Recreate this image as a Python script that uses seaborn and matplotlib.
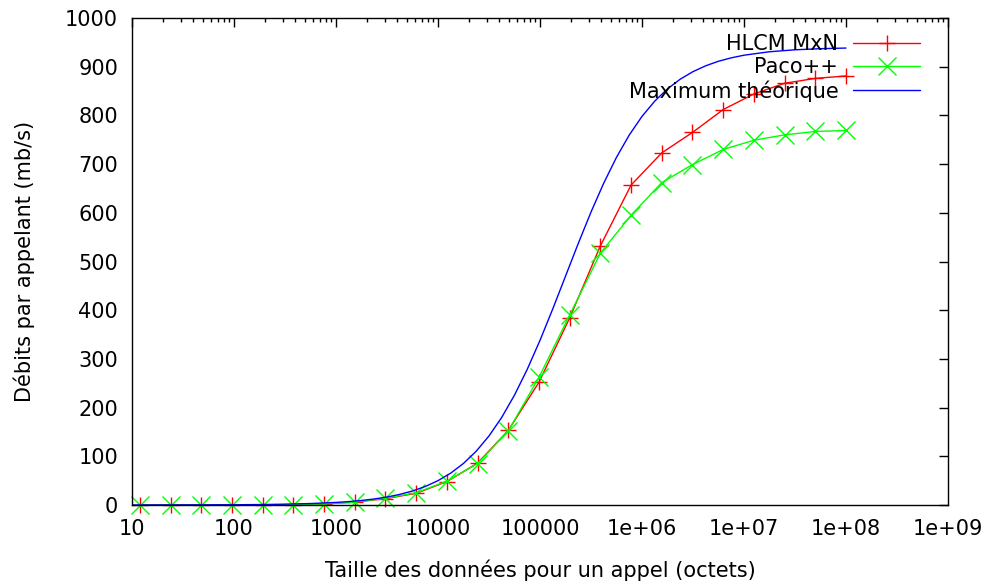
import pandas as pd
import matplotlib
matplotlib.use("Agg")
import matplotlib.pyplot as plt
import matplotlib.ticker as mtick
import seaborn as sns

# Data
sizes = [12, 24, 48, 95, 191, 381, 763, 1526, 3052, 6104, 12207, 24414,
         48828, 97656, 195312, 390625, 781250, 1562500, 3125000, 6250000,
         12500000, 25000000, 50000000, 100000000]
hlcm = [0, 0, 0, 0, 0, 1, 2, 6, 13, 24, 48, 86,
        153, 252, 384, 532, 657, 723, 765, 812, 844, 866, 876, 881]
paco = [0, 0, 0, 0, 0, 1, 2, 6, 14, 25, 49, 85,
        152, 262, 390, 517, 595, 662, 699, 730, 749, 760, 767, 769]

# theoretical maximum curve, sampled along the picture
max_sizes = [10, 17.8, 31.6, 56.2, 100, 178, 316, 562,
             1000, 1334, 1778, 2371, 3162, 4217, 5623, 7499,
             10000, 13335, 17783, 23714, 31623, 42170, 56234, 74989,
             100000, 133352, 177828, 237137, 316228, 421697, 562341, 749894,
             1000000, 1333521, 1778279, 2371374, 3162278, 4216965, 5623413, 7498942,
             10000000, 17782794, 31622777, 56234133, 100000000]
max_vals = [0.05, 0.1, 0.2, 0.3, 0.5, 0.9, 1.7, 3.0,
            5.3, 7.0, 9.3, 12.4, 16.4, 21.8, 28.8, 38.0,
            50.0, 65.5, 85.4, 110.5, 141.8, 180.0, 225.7, 278.6,
            338.1, 402.6, 469.8, 537.0, 601.5, 661.0, 714.0, 759.7,
            798.0, 829.3, 854.5, 874.4, 889.9, 901.9, 911.2, 918.2,
            923.6, 930.7, 934.7, 937.0, 938.3]

xticks = [1e1, 1e2, 1e3, 1e4, 1e5, 1e6, 1e7, 1e8, 1e9]
xtick_labels = ["10", "100", "1000", "10000", "100000",
                "1e+06", "1e+07", "1e+08", "1e+09"]

sns.set_theme(style="white")
plt.rcParams['font.family'] = ['DejaVu Sans']
plt.rcParams['text.color'] = 'black'
plt.rcParams['axes.labelcolor'] = 'black'

RED = "#ff0000"
GREEN = "#00ff00"
BLUE = "#0000ff"
FS = 15

df_h = pd.DataFrame({"size": sizes, "rate": hlcm})
df_p = pd.DataFrame({"size": sizes, "rate": paco})
df_m = pd.DataFrame({"size": max_sizes, "rate": max_vals})

fig = plt.figure(figsize=(9.86, 5.83), dpi=100)
ax = fig.add_axes([132/986, 1 - 505/583, 816/986, 487/583])

sns.lineplot(data=df_h, x="size", y="rate", ax=ax, color=RED, lw=1,
             marker="+", markersize=12, markeredgewidth=1, markeredgecolor=RED,
             label="HLCM MxN", clip_on=False, errorbar=None)
sns.lineplot(data=df_p, x="size", y="rate", ax=ax, color=GREEN, lw=1,
             marker="x", markersize=13, markeredgewidth=1, markeredgecolor=GREEN,
             label="Paco++", clip_on=False, errorbar=None)
sns.lineplot(data=df_m, x="size", y="rate", ax=ax, color=BLUE, lw=1,
             label="Maximum théorique", errorbar=None)

ax.set_xscale("log")
ax.set_xlim(10, 1e9)
ax.set_ylim(0, 1000)
ax.xaxis.set_major_locator(mtick.FixedLocator(xticks))
ax.set_xticklabels(xtick_labels)
ax.xaxis.set_minor_locator(mtick.LogLocator(base=10, subs=range(2, 10), numticks=50))
ax.xaxis.set_minor_formatter(mtick.NullFormatter())
ax.set_yticks(range(0, 1001, 100))

for s in ax.spines.values():
    s.set_color("black")
    s.set_linewidth(1)
ax.tick_params(which="both", direction="in", top=True, right=True,
               colors="black", labelsize=FS, width=1)
ax.tick_params(which="major", length=6.5)
ax.tick_params(which="minor", length=3.2)
ax.tick_params(axis="x", pad=10)
ax.tick_params(axis="y", pad=10)

ax.set_xlabel("Taille des données pour un appel (octets)", fontsize=FS, labelpad=15)
ax.set_ylabel("Débits par appelant (mb/s)", fontsize=FS, labelpad=22)

ax.legend(loc="upper right", bbox_to_anchor=((920 - 132) / 816, (505 - 34) / 487),
          bbox_transform=ax.transAxes, frameon=False, markerfirst=False,
          fontsize=FS, borderpad=0, handlelength=3.2, handletextpad=0.72,
          labelspacing=0.15, borderaxespad=0)

fig.savefig("out.png", dpi=100)
